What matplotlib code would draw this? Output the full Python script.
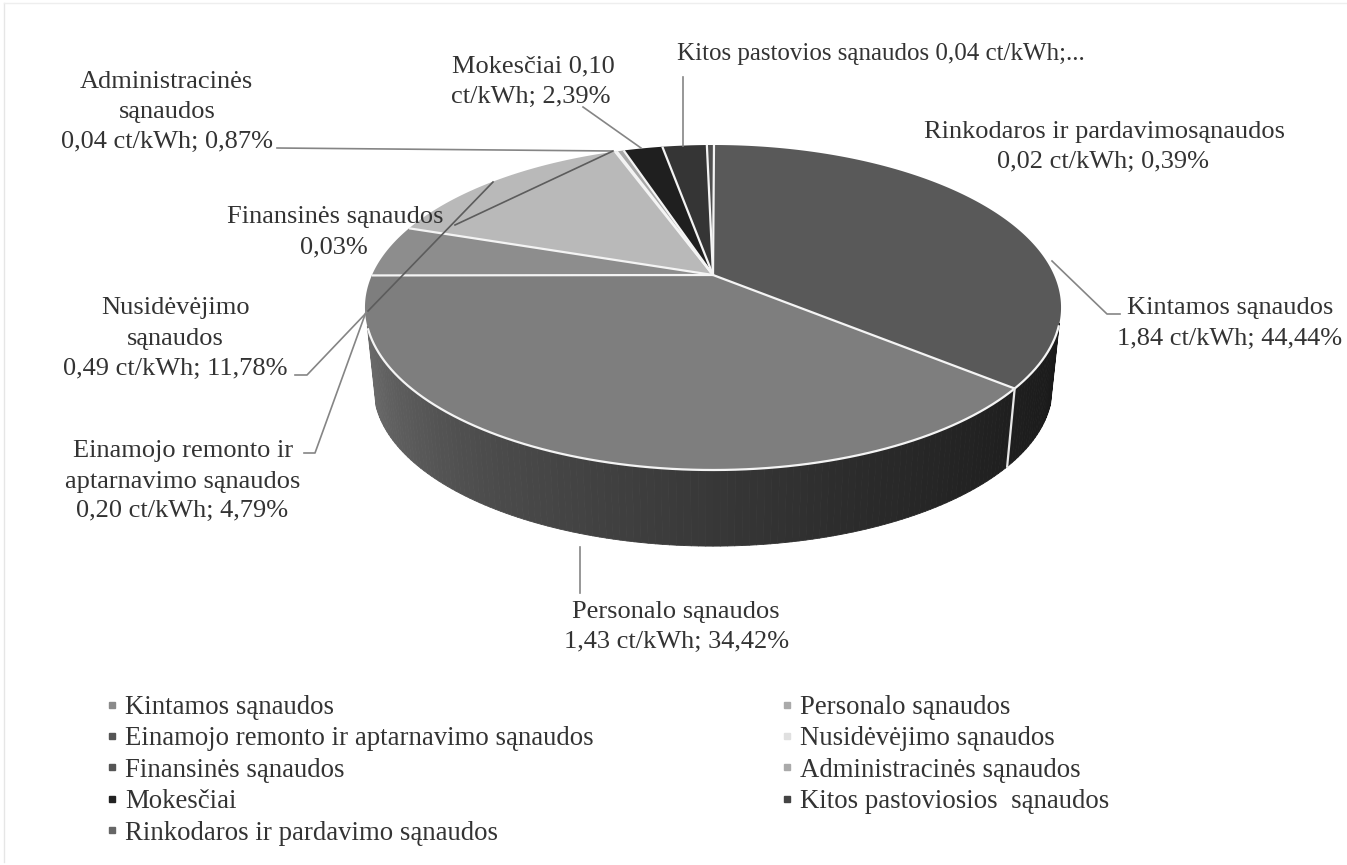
import numpy as np
import matplotlib
matplotlib.use("Agg")
import matplotlib.pyplot as plt
from matplotlib.collections import PolyCollection
from matplotlib.lines import Line2D

plt.rcParams['font.family'] = ['Liberation Serif', 'DejaVu Serif']

categories = ["Kintamos sąnaudos", "Personalo sąnaudos",
              "Einamojo remonto ir aptarnavimo sąnaudos", "Nusidėvėjimo sąnaudos",
              "Finansinės sąnaudos", "Administracinės sąnaudos", "Mokesčiai",
              "Kitos pastoviosios  sąnaudos", "Rinkodaros ir pardavimo sąnaudos"]
# slice sizes as drawn in the picture (the printed percentages differ)
drawn_share = [35.9, 39.0, 5.2, 14.3, 0.1, 0.4, 2.2, 2.5, 0.4]
slice_colors = ["#595959", "#7e7e7e", "#8d8d8d", "#b9b9b9", "#d0d0d0",
                "#a8a8a8", "#1f1f1f", "#353535", "#505050"]
legend_colors = ["#8a8a8a", "#aaaaaa", "#555555", "#e0e0e0", "#555555",
                 "#aaaaaa", "#222222", "#444444", "#666666"]

label_lines = [
    ("Administracinės", 166, 88), ("sąnaudos", 167, 118), ("0,04 ct/kWh; 0,87%", 167, 148),
    ("Mokesčiai 0,10", 533, 72), ("ct/kWh; 2,39%", 531, 103),
    ("Kitos pastovios sąnaudos 0,04 ct/kWh;...", 881, 60),
    ("Rinkodaros ir pardavimosąnaudos", 1104, 138), ("0,02 ct/kWh; 0,39%", 1103, 168),
    ("Kintamos sąnaudos", 1230, 314), ("1,84 ct/kWh; 44,44%", 1230, 345),
    ("Finansinės sąnaudos", 335, 223), ("0,03%", 334, 253),
    ("Nusidėvėjimo", 176, 314), ("sąnaudos", 175, 345), ("0,49 ct/kWh; 11,78%", 175, 375),
    ("Einamojo remonto ir", 183, 457), ("aptarnavimo sąnaudos", 183, 488),
    ("0,20 ct/kWh; 4,79%", 182, 517),
    ("Personalo sąnaudos", 676, 618), ("1,43 ct/kWh; 34,42%", 677, 648),
]
# leader lines outside the pie, then the parts that run over it
leaders = [
    ([277, 612], [148, 151]),
    ([583, 641], [107, 148]),
    ([683, 683], [77, 146]),
    ([1052, 1107, 1120], [261, 314, 314]),
    ([580, 580], [547, 593]),
    ([295, 307, 368], [375, 375, 311]),
    ([304, 315, 366], [453, 453, 312]),
]
leaders_over_pie = [
    ([455, 613], [225, 151]),
    ([368, 493], [311, 182]),
]

APEX = (713.0, 275.0)
K, A, B = 0.2, 156.0, 341.0

def top_face(theta_deg):
    t = np.radians(theta_deg)
    x, y = np.sin(t), np.cos(t)
    w = 1 + K * y
    return APEX[0] + B * x / w, APEX[1] - A * y / w

def bottom_face(theta_deg):
    px, py = top_face(theta_deg)
    s, d = 0.975, 81.0
    return APEX[0] + (px - APEX[0]) * s, APEX[1] + d + (py - APEX[1]) * s

fig = plt.figure(figsize=(13.47, 8.65), dpi=100, facecolor="white")
ax = fig.add_axes([0, 0, 1, 1])
ax.set_xlim(0, 1347)
ax.set_ylim(865, 0)
ax.axis("off")

# faint scan frame
ax.plot([4, 4], [3, 862], color="#e6e6e6", lw=1)
ax.plot([4, 1347], [3, 3], color="#eeeeee", lw=1)

# side wall
angs = np.arange(107, 253, 1.0)
polys, cols = [], []
for a0, a1 in zip(angs[:-1], angs[1:]):
    p0, p1 = top_face(a0), top_face(a1)
    q1, q0 = bottom_face(a1), bottom_face(a0)
    polys.append([p0, p1, q1, q0])
    g = np.interp((a0 + a1) / 2, [107, 130, 160, 185, 215, 240, 253],
                  [0.10, 0.12, 0.17, 0.23, 0.30, 0.38, 0.42])
    cols.append((g, g, g))
ax.add_collection(PolyCollection(polys, facecolors=cols, edgecolors=cols, linewidths=0.6))

# top face slices
edges = 0.2 + 3.6 * np.concatenate([[0], np.cumsum(drawn_share)])
for a0, a1, c in zip(edges[:-1], edges[1:], slice_colors):
    th = np.linspace(a0, a1, max(int(a1 - a0) * 2, 2))
    xs, ys = top_face(th)
    ax.fill(np.r_[APEX[0], xs], np.r_[APEX[1], ys], color=c, lw=0)

# white separators
for a in edges[:-1]:
    px, py = top_face(a)
    ax.plot([APEX[0], px], [APEX[1], py], color="#f4f4f4", lw=1.6, solid_capstyle="butt")
th = np.linspace(108, 251, 200)
xs, ys = top_face(th)
ax.plot(xs, ys, color="#f4f4f4", lw=1.6)
p, q = top_face(edges[1]), bottom_face(edges[1])
ax.plot([p[0], q[0]], [p[1], q[1]], color="#e8e8e8", lw=1.6)

# leader lines
for lx, ly in leaders:
    ax.plot(lx, ly, color="#858585", lw=1.2, solid_joinstyle="round")
for lx, ly in leaders_over_pie:
    ax.plot(lx, ly, color="#5c5c5c", lw=1.2)

# data labels
for s, x, y in label_lines:
    fs = 18 if s.startswith("Kitos") else 19
    ax.text(x, y, s, ha="center", va="baseline", fontsize=fs, color="#333333")

# legend
left = [0, 2, 4, 6, 8]
right = [1, 3, 5, 7]
order = left + right
handles = [Line2D([], [], ls="", marker="s", ms=4.6, color=legend_colors[i]) for i in order]
ax.legend(handles, [categories[i] for i in order], ncol=2,
          loc="upper left", bbox_to_anchor=(105.3 / 1347, 1 - 695 / 865),
          frameon=False, fontsize=19.3, labelcolor="#333333",
          labelspacing=0.24, handlelength=0.5, handletextpad=0.235,
          columnspacing=6.98, borderpad=0, borderaxespad=0)

fig.savefig("out.png", dpi=100)
